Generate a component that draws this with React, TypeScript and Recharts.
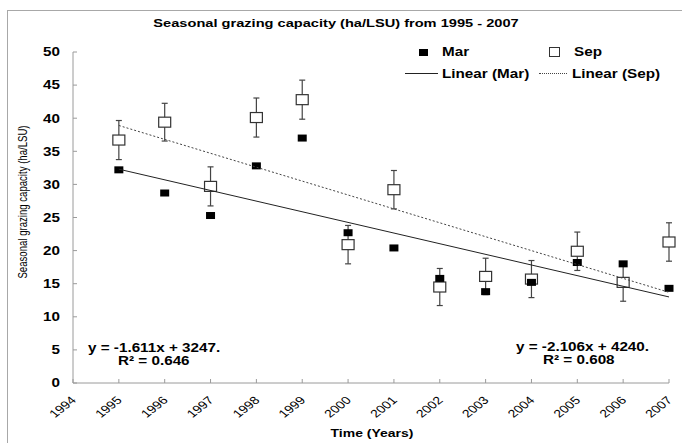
import React from 'react';
import { ScatterChart, Scatter, XAxis, YAxis, ErrorBar } from 'recharts';

const years = [1995, 1996, 1997, 1998, 1999, 2000, 2001, 2002, 2003, 2004, 2005, 2006, 2007];
const marValues = [32.2, 28.7, 25.3, 32.8, 37.0, 22.7, 20.4, 15.8, 13.8, 15.2, 18.2, 18.0, 14.3];
const sepValues = [36.7, 39.4, 29.7, 40.1, 42.8, 20.9, 29.2, 14.5, 16.1, 15.7, 19.9, 15.2, 21.3];
const sepErrors = [2.95, 2.85, 2.95, 2.95, 2.95, 2.9, 2.9, 2.8, 2.75, 2.8, 2.9, 2.85, 2.9];
const trendYears = [1995, 2007];
const marTrendValues = [32.3, 13.0];
const sepTrendValues = [38.9, 13.7];
const xTicks = [1994, 1995, 1996, 1997, 1998, 1999, 2000, 2001, 2002, 2003, 2004, 2005, 2006, 2007];
const yTicks = [0, 5, 10, 15, 20, 25, 30, 35, 40, 45, 50];

const titleText = 'Seasonal grazing capacity (ha/LSU) from 1995 - 2007';
const yLabelText = 'Seasonal grazing capacity (ha/LSU)';
const xLabelText = 'Time (Years)';
const marEq = 'y = -1.611x + 3247.';
const marR2 = 'R² = 0.646';
const sepEq = 'y = -2.106x + 4240.';
const sepR2 = 'R² = 0.608';

const marData = years.map((x, i) => ({ x, y: marValues[i] }));
const sepData = years.map((x, i) => ({ x, y: sepValues[i], err: sepErrors[i] }));
const marTrend = trendYears.map((x, i) => ({ x, y: marTrendValues[i] }));
const sepTrend = trendYears.map((x, i) => ({ x, y: sepTrendValues[i] }));

const FONT = '"Liberation Sans", Arial, Helvetica, sans-serif';
const SX = 1.27;
const AXIS = '#9a9a9a';

const MarShape = (props: any) => {
  const { cx, cy } = props;
  if (cx == null || cy == null) return <g />;
  return <rect x={cx - 4.5} y={cy - 3.5} width={9} height={7} fill="#000" />;
};
const SepShape = (props: any) => {
  const { cx, cy } = props;
  if (cx == null || cy == null) return <g />;
  return <rect x={cx - 6} y={cy - 5} width={12} height={10} fill="#fff" stroke="#333" strokeWidth={1.2} />;
};
const NoShape = () => <g />;

const YTick = (props: any) => {
  const { x, y, payload } = props;
  return (
    <g>
      <line x1={x} y1={y} x2={x + 4} y2={y} stroke={AXIS} />
      <text
        transform={`translate(${x - 13},${y}) scale(${SX},1)`}
        textAnchor="end"
        dy="0.36em"
        fontSize={12}
        fontWeight="bold"
        fontFamily={FONT}
        fill="#000"
      >
        {payload.value}
      </text>
    </g>
  );
};

const XTick = (props: any) => {
  const { x, y, payload } = props;
  return (
    <g>
      <line x1={x} y1={y} x2={x} y2={y - 4} stroke={AXIS} />
      <text
        transform={`translate(${x + 4},${y + 18}) scale(${SX},1) rotate(-45)`}
        textAnchor="end"
        fontSize={11}
        fontFamily={FONT}
        fill="#000"
      >
        {payload.value}
      </text>
    </g>
  );
};

const Txt = ({ left, top, size, bold, anchor, children }: any) => (
  <div
    style={{
      position: 'absolute',
      left,
      top,
      fontSize: size,
      fontWeight: bold ? 'bold' : 'normal',
      fontFamily: FONT,
      lineHeight: 1,
      whiteSpace: 'nowrap',
      color: '#000',
      transform: `translate(${anchor === 'middle' ? '-50%' : '0'},-50%) scaleX(${SX})`,
      transformOrigin: anchor === 'middle' ? 'center center' : 'left center',
    }}
  >
    {children}
  </div>
);

export default function App() {
  return (
    <div style={{ position: 'absolute', left: 0, top: 0, width: 682, height: 443, overflow: 'hidden', background: '#fff' }}>
      <div style={{ position: 'absolute', left: 7, top: 10, width: 700, height: 460, border: '1px solid #a8a8a8' }} />
      <ScatterChart width={682} height={443} margin={{ top: 52, right: 13, bottom: 10, left: 13 }}>
        <XAxis
          type="number"
          dataKey="x"
          domain={[1994, 2007]}
          ticks={xTicks}
          interval={0}
          height={50}
          tickSize={0}
          tickMargin={0}
          tickLine={false}
          axisLine={{ stroke: AXIS }}
          tick={<XTick />}
        />
        <YAxis
          type="number"
          dataKey="y"
          domain={[0, 50]}
          ticks={yTicks}
          interval={0}
          width={60}
          tickSize={0}
          tickMargin={0}
          tickLine={false}
          axisLine={{ stroke: AXIS }}
          tick={<YTick />}
        />
        <Scatter name="Sep" data={sepData} shape={<SepShape />} isAnimationActive={false}>
          <ErrorBar dataKey="err" direction="y" width={3} stroke="#444" strokeWidth={1.2} isAnimationActive={false} />
        </Scatter>
        <Scatter name="Mar" data={marData} shape={<MarShape />} isAnimationActive={false} />
        <Scatter
          name="Linear (Mar)"
          data={marTrend}
          line={{ stroke: '#222', strokeWidth: 1 }}
          shape={<NoShape />}
          isAnimationActive={false}
        />
        <Scatter
          name="Linear (Sep)"
          data={sepTrend}
          line={{ stroke: '#444', strokeWidth: 1, strokeDasharray: '2 2' }}
          shape={<NoShape />}
          isAnimationActive={false}
        />
      </ScatterChart>

      <Txt left={336} top={24} size={11.5} bold anchor="middle">{titleText}</Txt>

      {/* legend */}
      <div style={{ position: 'absolute', left: 418.5, top: 48.5, width: 9, height: 7, background: '#000' }} />
      <Txt left={442} top={52} size={12} bold>Mar</Txt>
      <div style={{ position: 'absolute', left: 549, top: 47, width: 9, height: 8, border: '1px solid #333', background: '#fff' }} />
      <Txt left={574} top={52} size={12} bold>Sep</Txt>
      <div style={{ position: 'absolute', left: 405, top: 73, width: 33, height: 0, borderTop: '1px solid #222' }} />
      <Txt left={442} top={74} size={12} bold>Linear (Mar)</Txt>
      <div style={{ position: 'absolute', left: 539, top: 73, width: 28, height: 0, borderTop: '1px dotted #444' }} />
      <Txt left={572} top={74} size={12} bold>Linear (Sep)</Txt>

      {/* trend equations */}
      <Txt left={88} top={348} size={12} bold>{marEq}</Txt>
      <Txt left={118} top={361} size={12} bold>{marR2}</Txt>
      <Txt left={516} top={347} size={12} bold>{sepEq}</Txt>
      <Txt left={543} top={360} size={12} bold>{sepR2}</Txt>

      {/* axis titles */}
      <Txt left={372} top={433} size={11} bold anchor="middle">{xLabelText}</Txt>
      <div
        style={{
          position: 'absolute',
          left: 23,
          top: 202,
          fontSize: 9.6,
          fontFamily: FONT,
          lineHeight: 1,
          whiteSpace: 'nowrap',
          color: '#000',
          transform: 'translate(-50%,-50%) rotate(-90deg) scaleY(1.27)',
          transformOrigin: 'center center',
        }}
      >
        {yLabelText}
      </div>
    </div>
  );
}
